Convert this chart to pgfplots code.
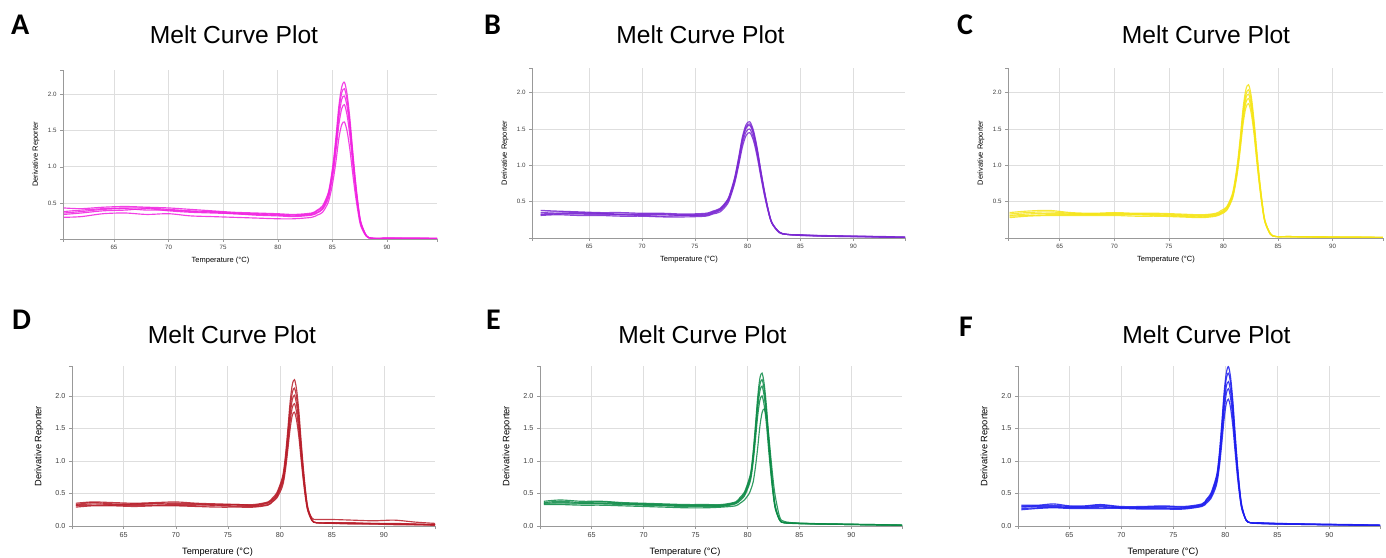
\documentclass[border=0pt]{standalone}
\usepackage{fontspec}
\setmainfont{Liberation Sans}
\newfontfamily\carlito{Carlito}
\usepackage{pgfplots}
\usepackage{pgfplotstable}
\pgfplotsset{compat=1.18}

\definecolor{cA}{RGB}{240,32,224}
\definecolor{cB}{RGB}{122,40,210}
\definecolor{cC}{RGB}{245,228,20}
\definecolor{cD}{RGB}{183,28,40}
\definecolor{cE}{RGB}{12,138,70}
\definecolor{cF}{RGB}{28,28,238}

\pgfplotstableread{
T a b c d e
60.4 0.43 0.38 0.36 0.34 0.30
62 0.42 0.40 0.38 0.36 0.31
64 0.44 0.42 0.41 0.39 0.35
66 0.45 0.43 0.42 0.40 0.36
68 0.44 0.43 0.40 0.42 0.34
70 0.43 0.41 0.40 0.39 0.35
72 0.41 0.39 0.38 0.37 0.32
74 0.39 0.38 0.37 0.36 0.31
76 0.37 0.36 0.35 0.35 0.30
78 0.36 0.35 0.34 0.33 0.29
80 0.35 0.34 0.33 0.32 0.28
81.5 0.34 0.33 0.32 0.31 0.28
83.1 0.36 0.35 0.34 0.33 0.30
83.6 0.40 0.39 0.37 0.36 0.33
84.1 0.46 0.44 0.42 0.41 0.37
84.6 0.63 0.61 0.58 0.55 0.50
84.85 0.82 0.79 0.76 0.72 0.64
85.1 1.09 1.04 1.00 0.94 0.84
85.35 1.45 1.39 1.33 1.25 1.10
85.6 1.85 1.78 1.69 1.59 1.40
85.85 2.10 2.02 1.93 1.80 1.58
86.1 2.17 2.08 1.98 1.86 1.62
86.35 2.00 1.92 1.83 1.71 1.49
86.6 1.67 1.60 1.53 1.43 1.24
86.85 1.24 1.19 1.13 1.06 0.92
87.1 0.83 0.80 0.76 0.71 0.62
87.35 0.49 0.47 0.45 0.42 0.37
87.6 0.24 0.23 0.22 0.20 0.18
88.1 0.05 0.05 0.05 0.04 0.04
88.6 0.012 0.011 0.01 0.01 0.01
90 0.01 0.01 0.01 0.01 0.01
92 0.01 0.01 0.009 0.01 0.008
94.6 0.009 0.008 0.008 0.009 0.007
}\tabA

\pgfplotstableread{
T a b c d e
60.4 0.38 0.35 0.33 0.32 0.31
62 0.37 0.36 0.34 0.33 0.32
64 0.36 0.35 0.34 0.33 0.31
66 0.35 0.34 0.34 0.32 0.31
68 0.35 0.33 0.32 0.32 0.30
70 0.34 0.33 0.32 0.31 0.30
72 0.34 0.33 0.32 0.30 0.29
74 0.33 0.32 0.31 0.31 0.29
76.0 0.34 0.33 0.32 0.31 0.30
76.7 0.37 0.36 0.35 0.34 0.33
77.4 0.41 0.40 0.39 0.38 0.36
78.1 0.53 0.52 0.51 0.49 0.47
78.45 0.67 0.65 0.64 0.62 0.60
78.8 0.85 0.84 0.82 0.79 0.77
79.15 1.11 1.09 1.06 1.03 1.00
79.5 1.39 1.36 1.34 1.30 1.25
79.85 1.56 1.53 1.51 1.46 1.41
80.2 1.60 1.57 1.55 1.50 1.45
80.55 1.48 1.45 1.43 1.38 1.34
80.9 1.24 1.22 1.19 1.16 1.12
81.25 0.93 0.91 0.90 0.87 0.84
81.6 0.64 0.63 0.62 0.60 0.58
81.95 0.39 0.39 0.38 0.37 0.36
82.3 0.21 0.21 0.21 0.20 0.20
83.0 0.08 0.08 0.08 0.08 0.07
83.7 0.05 0.05 0.05 0.05 0.05
85 0.045 0.04 0.04 0.035 0.035
87 0.035 0.03 0.03 0.03 0.025
89 0.03 0.025 0.025 0.02 0.02
91 0.025 0.02 0.02 0.02 0.015
93 0.02 0.015 0.015 0.015 0.01
94.9 0.012 0.01 0.01 0.01 0.008
}\tabB

\pgfplotstableread{
T a b c d e
60.4 0.35 0.33 0.31 0.30 0.28
62 0.37 0.35 0.33 0.31 0.30
64 0.38 0.36 0.34 0.32 0.31
66 0.35 0.34 0.33 0.32 0.31
68 0.34 0.33 0.33 0.32 0.31
70 0.35 0.34 0.33 0.32 0.31
72 0.34 0.33 0.33 0.32 0.30
74 0.34 0.33 0.32 0.31 0.30
76 0.33 0.32 0.31 0.30 0.29
78 0.32 0.31 0.30 0.29 0.28
79.3 0.34 0.33 0.32 0.31 0.30
79.8 0.38 0.36 0.35 0.34 0.33
80.3 0.43 0.42 0.41 0.39 0.38
80.8 0.60 0.58 0.56 0.55 0.53
81.05 0.79 0.76 0.74 0.72 0.69
81.3 1.05 1.01 0.98 0.95 0.92
81.55 1.40 1.35 1.32 1.28 1.23
81.8 1.79 1.73 1.68 1.63 1.57
82.05 2.04 1.97 1.92 1.86 1.79
82.3 2.11 2.04 1.98 1.92 1.85
82.55 1.95 1.89 1.83 1.78 1.71
82.8 1.62 1.57 1.53 1.49 1.43
83.05 1.21 1.17 1.14 1.10 1.06
83.3 0.82 0.79 0.77 0.75 0.72
83.55 0.49 0.48 0.46 0.45 0.43
83.8 0.24 0.24 0.23 0.22 0.22
84.3 0.06 0.06 0.06 0.05 0.05
84.8 0.02 0.02 0.02 0.02 0.02
86 0.02 0.02 0.018 0.02 0.015
88 0.015 0.015 0.014 0.016 0.012
90 0.013 0.012 0.012 0.012 0.01
92 0.012 0.012 0.01 0.011 0.01
94.6 0.008 0.008 0.007 0.008 0.006
}\tabC

\pgfplotstableread{
T a b c d e
60.4 0.35 0.33 0.32 0.31 0.29
62 0.37 0.36 0.34 0.32 0.31
64 0.36 0.34 0.33 0.32 0.31
66 0.35 0.34 0.33 0.32 0.30
68 0.36 0.35 0.34 0.32 0.31
70 0.37 0.35 0.33 0.32 0.31
72 0.35 0.34 0.33 0.31 0.30
74 0.34 0.33 0.32 0.31 0.29
76 0.33 0.33 0.32 0.30 0.29
77.5 0.33 0.32 0.31 0.30 0.29
78.85 0.37 0.36 0.35 0.33 0.32
79.28 0.43 0.41 0.40 0.38 0.37
79.7 0.51 0.49 0.47 0.45 0.43
80.13 0.69 0.66 0.63 0.60 0.56
80.34 0.83 0.79 0.75 0.71 0.67
80.55 1.11 1.05 1.00 0.94 0.88
80.76 1.48 1.41 1.33 1.25 1.17
80.98 1.90 1.80 1.70 1.60 1.49
81.19 2.17 2.05 1.94 1.82 1.70
81.4 2.25 2.12 2.01 1.88 1.75
81.61 2.09 1.97 1.86 1.74 1.62
81.83 1.75 1.65 1.56 1.46 1.36
82.04 1.31 1.23 1.17 1.09 1.02
82.25 0.90 0.85 0.80 0.75 0.70
82.46 0.55 0.52 0.49 0.46 0.43
82.68 0.29 0.27 0.26 0.25 0.23
83.1 0.09 0.12 0.09 0.08 0.08
83.53 0.05 0.10 0.05 0.05 0.05
85 0.05 0.10 0.05 0.04 0.04
87 0.05 0.09 0.04 0.04 0.03
89 0.04 0.08 0.04 0.03 0.03
91 0.04 0.09 0.03 0.03 0.02
93 0.03 0.06 0.03 0.02 0.02
94.9 0.02 0.04 0.02 0.02 0.01
}\tabD

\pgfplotstableread{
T a b c d e
60.4 0.38 0.36 0.35 0.34 0.33
62 0.40 0.38 0.36 0.34 0.33
64 0.38 0.36 0.35 0.34 0.32
66 0.38 0.37 0.35 0.34 0.32
68 0.36 0.35 0.34 0.33 0.31
70 0.35 0.34 0.33 0.32 0.30
72 0.34 0.33 0.32 0.31 0.29
74 0.33 0.32 0.31 0.30 0.28
76 0.33 0.32 0.31 0.30 0.28
77.5 0.33 0.32 0.31 0.30 0.29
78.85 0.37 0.36 0.35 0.34 0.31
79.28 0.44 0.42 0.41 0.39 0.35
79.7 0.52 0.50 0.48 0.46 0.40
80.13 0.71 0.68 0.65 0.62 0.49
80.34 0.85 0.82 0.79 0.74 0.57
80.55 1.15 1.10 1.05 0.99 0.68
80.76 1.54 1.48 1.41 1.32 0.90
80.98 1.98 1.90 1.81 1.69 1.20
81.19 2.27 2.17 2.07 1.93 1.53
81.4 2.35 2.25 2.15 2.00 1.74
81.61 2.18 2.09 1.99 1.85 1.80
81.83 1.83 1.75 1.67 1.55 1.67
82.04 1.37 1.31 1.25 1.16 1.40
82.25 0.94 0.90 0.86 0.80 1.05
82.46 0.57 0.55 0.53 0.49 0.72
82.68 0.30 0.29 0.28 0.26 0.45
83.1 0.09 0.09 0.09 0.09 0.14
83.53 0.05 0.05 0.05 0.05 0.07
85 0.045 0.04 0.04 0.035 0.04
87 0.035 0.035 0.03 0.03 0.03
89 0.03 0.03 0.025 0.025 0.025
91 0.025 0.025 0.02 0.02 0.02
93 0.02 0.02 0.015 0.015 0.015
94.9 0.015 0.012 0.01 0.01 0.01
}\tabE

\pgfplotstableread{
T a b c d e
60.4 0.32 0.30 0.29 0.27 0.25
62 0.32 0.31 0.30 0.28 0.27
63.5 0.34 0.32 0.30 0.29 0.28
65 0.31 0.30 0.29 0.28 0.27
66.5 0.31 0.30 0.29 0.28 0.27
68 0.33 0.32 0.30 0.29 0.27
70 0.30 0.29 0.28 0.28 0.27
72 0.30 0.29 0.28 0.27 0.26
74 0.31 0.30 0.28 0.27 0.26
76 0.30 0.29 0.28 0.27 0.26
77.75 0.34 0.33 0.32 0.31 0.30
78.18 0.41 0.40 0.38 0.37 0.35
78.6 0.50 0.48 0.46 0.44 0.42
79.03 0.70 0.67 0.64 0.61 0.57
79.24 0.85 0.82 0.78 0.74 0.70
79.45 1.16 1.12 1.06 1.01 0.94
79.66 1.58 1.52 1.44 1.37 1.27
79.88 2.05 1.97 1.86 1.76 1.64
80.09 2.35 2.26 2.14 2.03 1.88
80.3 2.45 2.35 2.22 2.11 1.95
80.51 2.28 2.19 2.07 1.96 1.81
80.73 1.91 1.83 1.73 1.64 1.52
80.94 1.43 1.37 1.30 1.23 1.14
81.15 0.98 0.94 0.89 0.85 0.78
81.36 0.60 0.58 0.55 0.52 0.49
81.58 0.32 0.30 0.29 0.28 0.26
82.0 0.09 0.09 0.09 0.09 0.09
82.43 0.05 0.05 0.05 0.05 0.05
83.5 0.05 0.045 0.04 0.04 0.035
85 0.04 0.04 0.035 0.03 0.03
87 0.035 0.03 0.03 0.025 0.025
89 0.03 0.025 0.025 0.02 0.02
91 0.025 0.02 0.02 0.02 0.015
93 0.02 0.015 0.015 0.015 0.01
94.9 0.015 0.01 0.01 0.01 0.01
}\tabF

\pgfplotsset{
  melt/.style={
    scale only axis,
    axis x line*=bottom, axis y line*=left,
    axis line style={draw=black!40, line width=0.6pt},
    tick style={draw=black!40, line width=0.5pt},
    tick align=outside, major tick length=3pt,
    xtick={65,70,75,80,85,90},
    xticklabels={65,70,75,80,85,90},
    ytick={0,0.5,1,1.5,2},
    grid=major, major grid style={draw=black!13, line width=0.7pt},
    extra tick style={grid=none},
    extra x tick labels={}, extra y tick labels={},
    ticklabel style={text=black!75},
    every axis plot/.append style={smooth, line width=1.15pt, opacity=0.85},
  },
  toprow/.style={melt, ymin=0, ymax=2.34,
    width=374pt, height=169pt,
    yticklabels={{},0.5,1.0,1.5,2.0},
    ticklabel style={font=\fontsize{6.2}{7}\selectfont},
    every axis y label/.style={at={(axis description cs:0,0.5)}, xshift=-27pt, rotate=90, anchor=center, font=\fontsize{7.5}{8}\selectfont},
    every axis x label/.style={at={(axis description cs:0.5,0)}, xshift=-29.5pt, yshift=-24pt, anchor=base, font=\fontsize{7.5}{8}\selectfont},
    extra y ticks={2.34},
    xlabel={Temperature (°C)}, ylabel={Derivative Reporter},
  },
  botrow/.style={melt, ymin=0, ymax=2.46,
    width=362pt, height=160pt,
    yticklabels={0.0,0.5,1.0,1.5,2.0},
    ticklabel style={font=\fontsize{7.2}{8}\selectfont},
    every axis y label/.style={at={(axis description cs:0,0.5)}, xshift=-33pt, rotate=90, anchor=center, font=\fontsize{9.3}{10}\selectfont},
    every axis x label/.style={at={(axis description cs:0.5,0)}, xshift=-36pt, yshift=-28.5pt, anchor=base, font=\fontsize{9.2}{10}\selectfont},
    extra y ticks={2.46},
    xlabel={Temperature (°C)}, ylabel={Derivative Reporter},
  },
}

\newcommand\fivecurves[2]{%
  \addplot[#2] table[x=T,y=a]{#1};
  \addplot[#2] table[x=T,y=b]{#1};
  \addplot[#2] table[x=T,y=c]{#1};
  \addplot[#2] table[x=T,y=d]{#1};
  \addplot[#2] table[x=T,y=e]{#1};
}

\begin{document}
\begin{tikzpicture}
\useasboundingbox (0pt,0pt) rectangle (1386pt,557pt);

% A
\begin{axis}[toprow, at={(63pt,318pt)}, anchor=south west, width=374pt,
  xmin=60.33, xmax=94.58, extra x ticks={60.33,94.58}]
\fivecurves{\tabA}{cA}
\end{axis}
% B
\begin{axis}[toprow, at={(532pt,319pt)}, anchor=south west, width=373pt, height=170pt,
  xmin=59.58, xmax=94.9, extra x ticks={59.58,94.9}]
\fivecurves{\tabB}{cB}
\end{axis}
% C
\begin{axis}[toprow, at={(1008pt,319pt)}, anchor=south west, width=375pt, height=170pt,
  xmin=60.26, xmax=94.62, extra x ticks={60.26,94.62}]
\fivecurves{\tabC}{cC}
\end{axis}
% D
\begin{axis}[botrow, at={(72pt,31pt)}, anchor=south west, width=363pt,
  xmin=60.03, xmax=94.9, extra x ticks={60.03,94.9}]
\fivecurves{\tabD}{cD}
\end{axis}
% E
\begin{axis}[botrow, at={(540pt,31pt)}, anchor=south west,
  xmin=60.03, xmax=94.87, extra x ticks={60.03,94.87}]
\fivecurves{\tabE}{cE}
\end{axis}
% F
\begin{axis}[botrow, at={(1018pt,31pt)}, anchor=south west,
  xmin=60.07, xmax=94.87, extra x ticks={60.07,94.87}]
\fivecurves{\tabF}{cF}
\end{axis}

% titles
\begin{scope}[every node/.style={anchor=base, font=\fontsize{24.6}{28}\selectfont, inner sep=0pt}]
\node at (234pt,513.7pt) {Melt Curve Plot};
\node at (700.5pt,513.7pt) {Melt Curve Plot};
\node at (1206pt,513.7pt) {Melt Curve Plot};
\node at (232pt,213.7pt) {Melt Curve Plot};
\node at (702.5pt,213.7pt) {Melt Curve Plot};
\node at (1206.5pt,213.7pt) {Melt Curve Plot};
\end{scope}
% panel letters
\begin{scope}[every node/.style={anchor=base west, font=\carlito\bfseries\fontsize{30}{32}\selectfont, inner sep=0pt}]
\node at (11pt,522pt) {A};
\node at (484pt,522pt) {B};
\node at (957pt,522pt) {C};
\node at (12pt,227pt) {D};
\node at (486pt,227pt) {E};
\node at (959pt,220pt) {F};
\end{scope}
\end{tikzpicture}
\end{document}
